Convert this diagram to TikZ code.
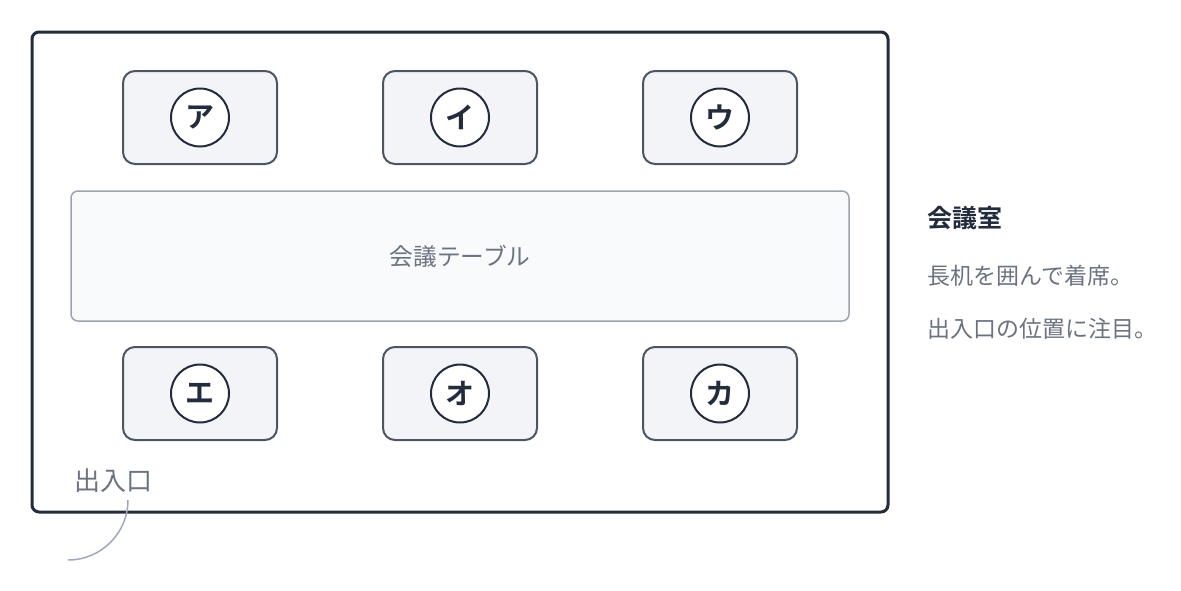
\documentclass[tikz,border=0pt]{standalone}
\usepackage{fontspec}
\setmainfont{Noto Sans CJK JP}[BoldFont={Noto Sans CJK JP Bold}]
\usetikzlibrary{positioning}

\definecolor{ink}{HTML}{232C3D}
\definecolor{chairline}{HTML}{4B5563}
\definecolor{chairfill}{HTML}{F3F4F8}
\definecolor{tablefill}{HTML}{F9FAFB}
\definecolor{tableline}{HTML}{9CA3AF}
\definecolor{note}{HTML}{6B7280}
\definecolor{doorline}{HTML}{A0A8B8}

\begin{document}
\begin{tikzpicture}[x=1pt, y=-1pt, thick]

   \tikzstyle{room}=[rectangle, rounded corners=7pt, draw=ink, line width=3pt, minimum width=856pt, minimum height=480pt]
   \tikzstyle{chair}=[rectangle, rounded corners=12pt, draw=chairline, fill=chairfill, line width=2pt, minimum width=154pt, minimum height=93pt]
   \tikzstyle{seat}=[circle, draw=ink, fill=white, line width=2pt, minimum size=58pt, inner sep=0pt, text=ink, font=\fontsize{29}{29}\selectfont\bfseries]
   \tikzstyle{desk}=[rectangle, rounded corners=7pt, draw=tableline, fill=tablefill, line width=1.5pt, minimum width=778pt, minimum height=130pt, text=note, font=\fontsize{23.7}{24}\selectfont]
   \tikzstyle{caption}=[anchor=west, inner sep=0pt, text=note, font=\fontsize{23}{23}\selectfont]

   \useasboundingbox (0,0) rectangle (1181,590);

   \node[room] (room) at (460,272) {};

   \node[chair] (c1) at (200,117.5) {};
   \node[chair] (c2) at (460,117.5) {};
   \node[chair] (c3) at (720,117.5) {};
   \node[chair] (c4) at (200,393.5) {};
   \node[chair] (c5) at (460,393.5) {};
   \node[chair] (c6) at (720,393.5) {};

   \node[seat] (s1) at (c1) {ア};
   \node[seat] (s2) at (c2) {イ};
   \node[seat] (s3) at (c3) {ウ};
   \node[seat] (s4) at (c4) {エ};
   \node[seat] (s5) at (c5) {オ};
   \node[seat] (s6) at (c6) {カ};

   \node[desk] (desk) at (460,256) {会議テーブル};

   % entrance and door swing
   \node[text=note, font=\fontsize{26}{26}\selectfont, inner sep=0pt] (exit) at (113,481) {出入口};
   \coordinate (hinge) at (128,500);
   \draw[doorline, line width=1.5pt] (hinge) arc[start angle=0, end angle=90, radius=60];

   % side notes
   \node[caption, text=ink, font=\fontsize{25}{25}\selectfont\bfseries] (title) at (927,218) {会議室};
   \node[caption] (line1) at (927,276) {長机を囲んで着席。};
   \node[caption] (line2) at (927,329) {出入口の位置に注目。};
\end{tikzpicture}
\end{document}
